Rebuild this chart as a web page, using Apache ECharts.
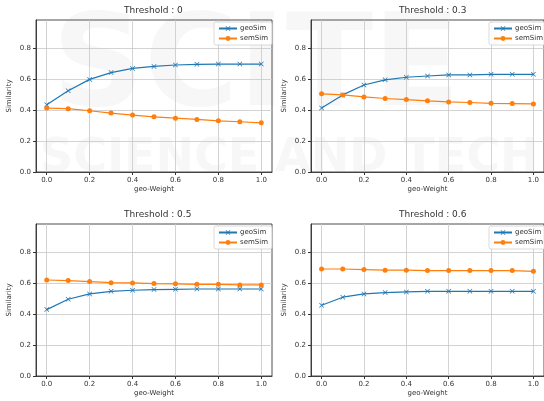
<!DOCTYPE html>
<html>
<head>
<meta charset="utf-8">
<script src="https://cdn.jsdelivr.net/npm/echarts@6/dist/echarts.min.js"></script>
<style>
  html, body { margin: 0; padding: 0; background: #fff; }
  #chart { width: 544px; height: 401px; }
</style>
</head>
<body>
<div id="chart"></div>
<script>
// geo-Weight values on the x axis
const weights = [0.0, 0.1, 0.2, 0.3, 0.4, 0.5, 0.6, 0.7, 0.8, 0.9, 1.0]
const thresholds = ['0', '0.3', '0.5', '0.6']
const xTicks = [0.0, 0.2, 0.4, 0.6, 0.8, 1.0]
const yTicks = [0.0, 0.2, 0.4, 0.6, 0.8]

// Threshold : 0
const geoSim0 = [0.433, 0.524, 0.597, 0.641, 0.668, 0.681, 0.690, 0.694, 0.696, 0.696, 0.696]
const semSim0 = [0.412, 0.408, 0.395, 0.380, 0.367, 0.356, 0.347, 0.339, 0.330, 0.324, 0.317]
// Threshold : 0.3
const geoSim3 = [0.413, 0.497, 0.561, 0.594, 0.611, 0.619, 0.626, 0.626, 0.630, 0.630, 0.630]
const semSim3 = [0.504, 0.497, 0.484, 0.474, 0.467, 0.459, 0.452, 0.448, 0.443, 0.441, 0.439]
// Threshold : 0.5
const geoSim5 = [0.428, 0.495, 0.529, 0.546, 0.553, 0.557, 0.559, 0.561, 0.561, 0.561, 0.561]
const semSim5 = [0.619, 0.615, 0.609, 0.602, 0.600, 0.596, 0.594, 0.591, 0.591, 0.587, 0.587]
// Threshold : 0.6
const geoSim6 = [0.456, 0.508, 0.529, 0.538, 0.542, 0.546, 0.546, 0.546, 0.546, 0.546, 0.546]
const semSim6 = [0.690, 0.690, 0.686, 0.682, 0.682, 0.680, 0.680, 0.680, 0.680, 0.680, 0.675]

const geoList = [geoSim0, geoSim3, geoSim5, geoSim6]
const semList = [semSim0, semSim3, semSim5, semSim6]

const FONT = 'DejaVu Sans'
const BLUE = '#1f77b4'
const ORANGE = '#ff7f0e'
const crossSymbol = 'path://M0,1L1,0L5,4L9,0L10,1L6,5L10,9L9,10L5,6L1,10L0,9L4,5Z'

// panel positions (left, top) of each plot area
const panels = [
  { left: 36, top: 20 },
  { left: 311, top: 20 },
  { left: 36, top: 224 },
  { left: 311, top: 224 },
]
const plotW = 236
const plotH = 152

const chart = echarts.init(document.getElementById('chart'), null, { renderer: 'canvas' })

const grid = []
const xAxis = []
const yAxis = []
const series = []
const legend = []
const graphic = []

panels.forEach((p, i) => {
  grid.push({ left: p.left, top: p.top, width: plotW, height: plotH, show: true, borderColor: '#222', borderWidth: 0.8, backgroundColor: 'transparent' })
  xAxis.push({
    gridIndex: i,
    type: 'value',
    min: -0.05,
    max: 1.05,
    name: 'geo-Weight',
    nameLocation: 'middle',
    nameGap: 14,
    nameTextStyle: { fontFamily: FONT, fontSize: 7, color: '#333' },
    axisLine: { show: true, onZero: false, lineStyle: { color: '#222', width: 0.8 } },
    axisTick: { show: true, length: 3, lineStyle: { color: '#333' }, customValues: xTicks },
    axisLabel: {
      fontFamily: FONT, fontSize: 7, color: '#333', margin: 5,
      customValues: xTicks,
      formatter: (v) => v.toFixed(1),
    },
    splitLine: { show: true, lineStyle: { color: '#c8c8c8', width: 0.8 } },
  })
  yAxis.push({
    gridIndex: i,
    type: 'value',
    min: 0,
    max: 0.98,
    name: 'Similarity',
    nameLocation: 'middle',
    nameGap: 23,
    nameTextStyle: { fontFamily: FONT, fontSize: 7, color: '#333' },
    axisLine: { show: true, onZero: false, lineStyle: { color: '#222', width: 0.8 } },
    axisTick: { show: true, length: 3, lineStyle: { color: '#333' }, customValues: yTicks },
    axisLabel: {
      fontFamily: FONT, fontSize: 7, color: '#333', margin: 5,
      customValues: yTicks,
      formatter: (v) => v.toFixed(1),
    },
    splitLine: { show: true, lineStyle: { color: '#c8c8c8', width: 0.8 } },
  })
  series.push({
    name: 'geoSim',
    type: 'line',
    xAxisIndex: i,
    yAxisIndex: i,
    data: weights.map((w, k) => [w, geoList[i][k]]),
    symbol: crossSymbol,
    symbolSize: 5,
    showAllSymbol: true,
    lineStyle: { color: BLUE, width: 1.2 },
    itemStyle: { color: BLUE },
  })
  series.push({
    name: 'semSim',
    type: 'line',
    xAxisIndex: i,
    yAxisIndex: i,
    data: weights.map((w, k) => [w, semList[i][k]]),
    symbol: 'circle',
    symbolSize: 5,
    showAllSymbol: true,
    lineStyle: { color: ORANGE, width: 1.2 },
    itemStyle: { color: ORANGE },
  })
  legend.push({
    data: ['geoSim', 'semSim'],
    orient: 'vertical',
    left: p.left + 178,
    top: p.top + 2,
    itemWidth: 18,
    itemHeight: 6,
    itemGap: 3,
    padding: [3, 4, 3, 4],
    backgroundColor: 'rgba(255,255,255,0.85)',
    borderColor: '#d0d0d0',
    borderWidth: 0.8,
    borderRadius: 2,
    textStyle: { fontFamily: FONT, fontSize: 7, color: '#333', padding: [0, 0, 0, -2] },
  })
  graphic.push({
    type: 'text',
    left: p.left + plotW / 2 - 30,
    top: p.top - 14,
    style: { text: 'Threshold : ' + thresholds[i], font: '9px ' + FONT, fill: '#333', textAlign: 'center', x: 30 },
  })
})

// faint publisher watermark over the figure
graphic.push({
  type: 'group',
  silent: true,
  z: 100,
  children: [
    { type: 'text', x: 52, y: 8, style: { text: 'SCITE', font: 'bold 128px ' + FONT, fill: 'rgba(120,120,120,0.06)' } },
    { type: 'text', x: 40, y: 136, style: { text: 'SCIENCE AND TECH', font: 'bold 46px ' + FONT, fill: 'rgba(120,120,120,0.06)' } },
  ],
})

chart.setOption({
  animation: false,
  backgroundColor: '#fff',
  grid,
  xAxis,
  yAxis,
  series,
  legend,
  graphic,
})
</script>
</body>
</html>
